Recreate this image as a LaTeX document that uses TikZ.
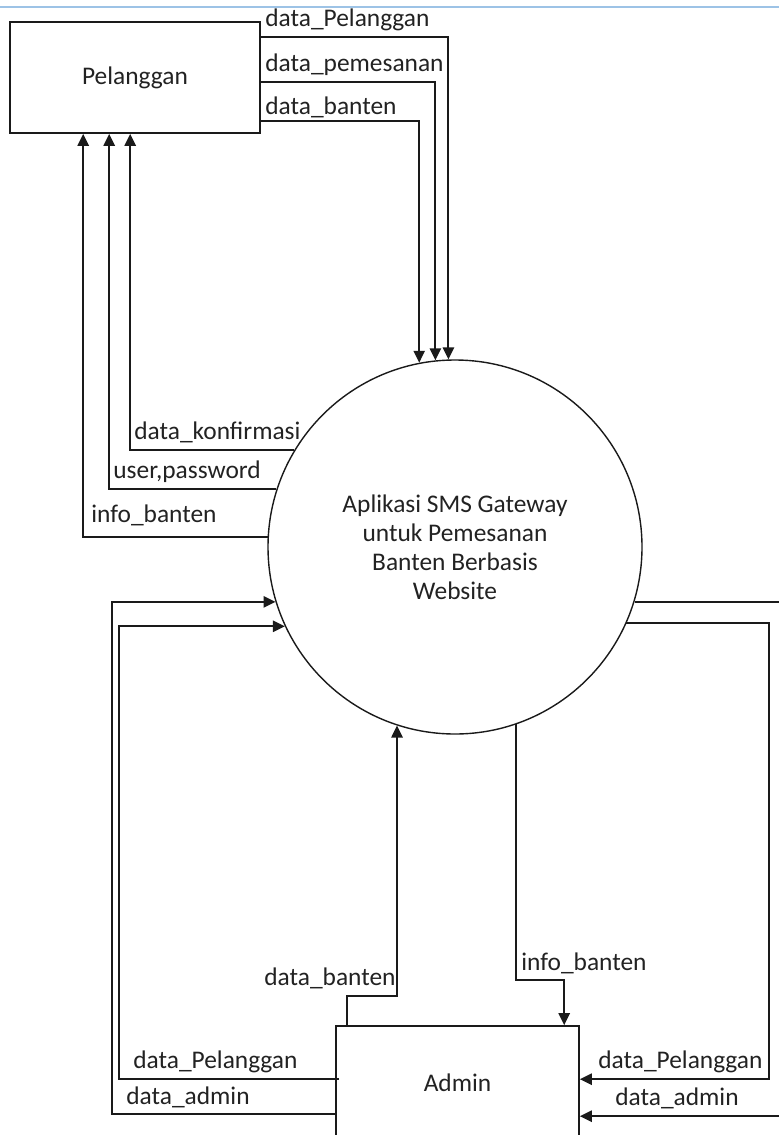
\documentclass[tikz,border=0pt]{standalone}
\usepackage{fontspec}
\setmainfont{Carlito}
\usetikzlibrary{positioning, arrows.meta, calc}
\definecolor{dText}{HTML}{222222}
\definecolor{dLine}{HTML}{1A1A1A}
\definecolor{dRule}{HTML}{9DC3E6}

\begin{document}
\begin{tikzpicture}[
  x=0.5pt, y=-0.5pt,
  every node/.style={font=\fontsize{12.7}{14.5}\selectfont, text=dText},
  ent/.style={draw=dLine, line width=0.8pt, inner sep=0pt},
  proc/.style={circle, draw=dLine, line width=0.7pt, minimum size=187pt,
               inner sep=0pt, align=center},
  flow/.style={-{Triangle[length=6pt, width=5.6pt]}, line width=1pt, dLine},
  lbl/.style={anchor=west, inner sep=0pt},
]
  \clip (0,0) rectangle (779,1135);
  \draw[dRule, line width=1pt] (0,7) -- (779,7);

  % Entities and process
  \node[ent, minimum width=125pt, minimum height=55.5pt] (pel) at (135,77.5) {Pelanggan};
  \node[proc] (sys) at (455,547) {Aplikasi SMS Gateway\\untuk Pemesanan\\Banten Berbasis\\Website};
  \node[ent, minimum width=121.5pt, minimum height=57pt] (adm) at (457.5,1083) {Admin};

  % Pelanggan -> sistem
  \draw[flow] ($(pel.north east)+(0,16)$) -| (sys.92);
  \draw[flow] ($(pel.north east)+(0,61)$) -| (sys.96);
  \draw[flow] ($(pel.north east)+(0,100)$) -| (sys.101);

  \node[lbl] (lPel) at (265,20) {data\_Pelanggan};
  \node[lbl] (lPesan) at (265,65) {data\_pemesanan};
  \node[lbl] (lBanten) at (265,107) {data\_banten};

  % sistem -> Pelanggan
  \draw[flow] (sys.149) -| ($(pel.south west)+(121,0)$);
  \draw[flow] (sys.162) -| ($(pel.south west)+(100,0)$);
  \draw[flow] (sys.177) -| ($(pel.south west)+(74,0)$);

  \node[lbl] (lKonf) at (134,432) {data\_konfirmasi};
  \node[lbl] (lUser) at (113,472) {user,password};
  \node[lbl] (lInfo) at (91,515) {info\_banten};

  % Admin -> sistem
  \draw[flow] ($(adm.north west)+(0,89)$) -- ++(-223,0) |- (sys.197);
  \draw[flow] ($(adm.north west)+(4,54)$) -- ++(-220,0) |- (sys.205);
  \draw[flow] ($(adm.north west)+(12,0)$) -- ++(0,-29) -| (sys.252);

  \node[lbl] (lAdmPelL) at (133,1062) {data\_Pelanggan};
  \node[lbl] (lAdmL) at (126,1097) {data\_admin};
  \node[lbl] (lAdmBanten) at (264,978) {data\_banten};

  % sistem -> Admin
  \draw[flow] (sys.289) -- ++(0,256) -| ($(adm.north west)+(229,0)$);
  \draw[flow] (sys.336) -- ++(143,0) |- ($(adm.north east)+(0,54)$);
  \draw[flow] (sys.343) -- ++(200,0) |- ($(adm.north east)+(0,91)$);

  \node[lbl] (lAdmInfo) at (521,963) {info\_banten};
  \node[lbl] (lAdmPelR) at (598,1062) {data\_Pelanggan};
  \node[lbl] (lAdmR) at (615,1098) {data\_admin};
\end{tikzpicture}
\end{document}
